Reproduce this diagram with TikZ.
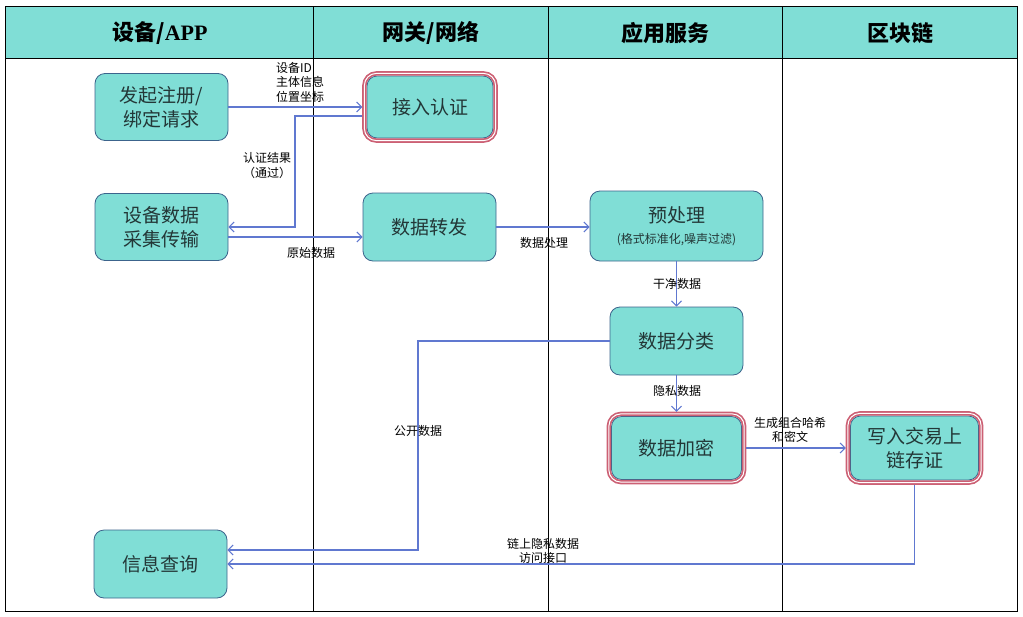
\documentclass[tikz,border=0pt]{standalone}
\usepackage{fontspec}
\setmainfont{Noto Sans CJK SC}
\newfontfamily\serifb{Liberation Serif}
\usetikzlibrary{arrows.meta,fit,calc}
\definecolor{tealf}{RGB}{128,222,214}
\definecolor{bordc}{RGB}{60,100,140}
\definecolor{linec}{RGB}{96,120,208}
\definecolor{rosec}{RGB}{204,96,116}
\definecolor{txtc}{RGB}{35,55,55}
\begin{document}
\begin{tikzpicture}[x=1pt,y=-1pt,
  box/.style={draw=bordc, line width=0.8pt, fill=tealf, rounded corners=10pt,
    minimum width=133pt, minimum height=67pt, align=center, inner sep=0pt,
    font=\fontsize{19}{24}\selectfont, text=txtc},
  ring/.style={draw=rosec, double=white, double distance=1pt, line width=1.7pt,
    rounded corners=12pt, inner sep=2.2pt, outer sep=2pt},
  conn/.style={draw=linec, line width=1.1pt, -{Straight Barb[length=5pt,width=10pt]}},
  lbl/.style={font=\fontsize{12}{14.5}\selectfont, align=center, inner sep=0pt},
  hdr/.style={font=\fontsize{22}{24}\selectfont\bfseries, text=black}]
\useasboundingbox (0,0) rectangle (1023,616);
% frame and header
\fill[tealf] (5.5,6.5) rectangle (1017.5,58);
\draw[line width=1pt] (5.5,58) -- (1017.5,58);
\foreach \x in {313,548,782} \draw[line width=1pt] (\x,6.5) -- (\x,611.5);
\draw[line width=1.5pt] (5.5,6.5) rectangle (1017.5,611.5);
\node[hdr] (h1) at (160,33) {设备/{\serifb\bfseries APP}};
\node[hdr] (h2) at (431,33) {网关/网络};
\node[hdr] (h3) at (665.5,33) {应用服务};
\node[hdr] (h4) at (900.5,33) {区块链};
% nodes
\node[box] (reg) at (161.5,107) {发起注册/\\绑定请求};
\node[box, minimum width=126pt, minimum height=62pt] (auth) at (430,107) {接入认证};
\node[ring, fit=(auth)] (authR) {};
\node[box] (collect) at (161.5,227) {设备数据\\采集传输};
\node[box, minimum height=68pt] (fwd) at (429.5,227) {数据转发};
\node[box, minimum width=173pt, minimum height=70pt] (pre) at (676.5,226)
  {预处理\\[-3pt]{\fontsize{12}{14}\selectfont (格式标准化,噪声过滤)}};
\node[box, minimum height=68pt] (cls) at (676.5,341) {数据分类};
\node[box, minimum width=130pt, minimum height=63pt] (enc) at (676.5,448) {数据加密};
\node[ring, fit=(enc)] (encR) {};
\node[box, minimum width=128pt, minimum height=64pt] (store) at (914.5,448) {写入交易上\\链存证};
\node[ring, fit=(store)] (storeR) {};
\node[box, minimum height=68pt] (query) at (160.5,564) {信息查询};
% connector corners
\coordinate (c1) at (295,227);
\coordinate (c2) at (418,550);
% connectors
\draw[conn] (reg.east) -- (authR.west);
\draw[conn] ([yshift=-9pt]authR.west) -| (c1) -- (collect.east);
\draw[conn] ([yshift=-10pt]collect.east) -- ([yshift=-10pt]fwd.west);
\draw[conn] (fwd.east) -- (fwd.east -| pre.west);
\draw[conn] (pre.south) -- (cls.north);
\draw[conn] (cls.west) -| (c2) -- (c2 -| query.east);
\draw[conn] (cls.south) -- (encR.north);
\draw[conn] (encR.east) -- (storeR.west);
\draw[conn] (storeR.south) |- (query.east);
% labels
\node[lbl, align=left, anchor=north west] (l1) at (276,62) {设备ID\\主体信息\\位置坐标};
\node[lbl] (l2) at (267,165.5) {认证结果\\（通过）};
\node[lbl] (l3) at (311,253) {原始数据};
\node[lbl] (l4) at (544,243) {数据处理};
\node[lbl] (l5) at (677,284) {干净数据};
\node[lbl] (l6) at (418,431) {公开数据};
\node[lbl] (l7) at (677,391) {隐私数据};
\node[lbl] (l8) at (790,430) {生成组合哈希\\和密文};
\node[lbl] (l9) at (543,551) {链上隐私数据\\访问接口};
\end{tikzpicture}
\end{document}
